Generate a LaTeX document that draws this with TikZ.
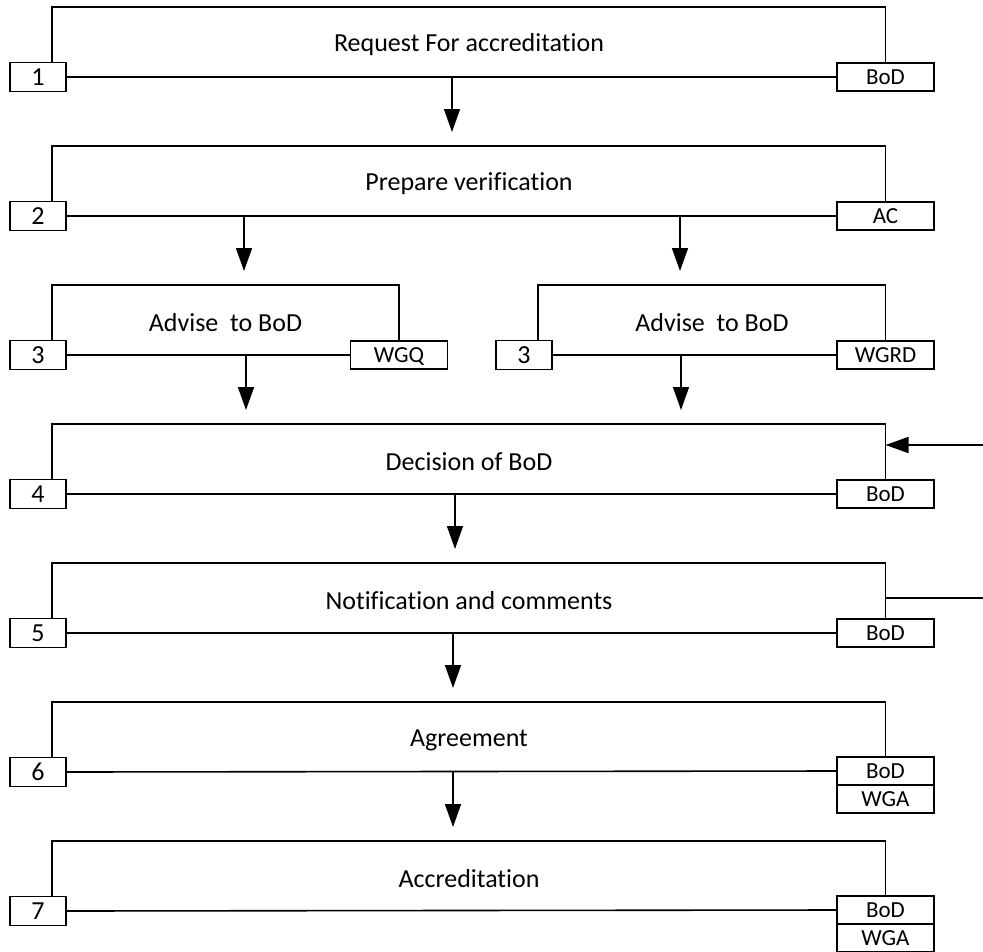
\documentclass[tikz,border=0pt]{standalone}
\usepackage{fontspec}
\setmainfont[Ligatures=CommonOff]{Carlito}
\usetikzlibrary{arrows.meta}
\tikzset{
  x=1pt, y=-1pt,
  every path/.style={line width=1.6pt},
  numbox/.style={draw, rectangle, inner sep=0pt, outer sep=0pt,
    minimum width=56pt, minimum height=29pt,
    text height=16.5pt, text depth=0pt, font=\fontsize{26pt}{26pt}\selectfont},
  rolebox/.style={draw, rectangle, inner sep=0pt, outer sep=0pt,
    minimum width=97pt, minimum height=28pt,
    text height=14.8pt, text depth=0pt, font=\fontsize{23pt}{23pt}\selectfont},
  titletext/.style={inner sep=0pt, font=\fontsize{26pt}{26pt}\selectfont},
  flow/.style={-{Triangle[length=23pt,width=16pt]}, shorten >=14pt},
  feed/.style={-{Triangle[length=23pt,width=16pt]}},
}
\begin{document}
\begin{tikzpicture}
\useasboundingbox (0,0) rectangle (983,951);

% ---------- step 1 ----------
\coordinate (tl1) at (52,7);   \coordinate (tr1) at (885.5,7);
\node[numbox]  (n1) at (38,77)    {1};
\node[rolebox] (r1) at (885.5,77) {BoD};
\node[titletext] (t1) at (469,45) {Request For accreditation};
\draw (n1.north -| tl1) -- (tl1) -- (tr1) -- (r1.north);
\draw (n1.east) -- (r1.west);

% ---------- step 2 ----------
\coordinate (tl2) at (52,146); \coordinate (tr2) at (885.5,146);
\node[numbox]  (n2) at (38,216)    {2};
\node[rolebox] (r2) at (885.5,216) {AC};
\node[titletext] (t2) at (469,184) {Prepare verification};
\draw (n2.north -| tl2) -- (tl2) -- (tr2) -- (r2.north);
\draw (n2.east) -- (r2.west);

% ---------- step 3 (two parallel advices) ----------
\coordinate (tl3a) at (52,285);  \coordinate (tr3a) at (399,285);
\node[numbox]  (n3a) at (38,355)  {3};
\node[rolebox] (r3a) at (399,355) {WGQ};
\node[titletext] (t3a) at (225.5,323) {Advise\ \ to BoD};
\draw (n3a.north -| tl3a) -- (tl3a) -- (tr3a) -- (r3a.north);
\draw (n3a.east) -- (r3a.west);

\coordinate (tl3b) at (538,285); \coordinate (tr3b) at (885.5,285);
\node[numbox]  (n3b) at (524,355)   {3};
\node[rolebox] (r3b) at (885.5,355) {WGRD};
\node[titletext] (t3b) at (712,323) {Advise\ \ to BoD};
\draw (n3b.north -| tl3b) -- (tl3b) -- (tr3b) -- (r3b.north);
\draw (n3b.east) -- (r3b.west);

% ---------- step 4 ----------
\coordinate (tl4) at (52,424); \coordinate (tr4) at (885.5,424);
\node[numbox]  (n4) at (38,494)    {4};
\node[rolebox] (r4) at (885.5,494) {BoD};
\node[titletext] (t4) at (469,462) {Decision of BoD};
\draw (n4.north -| tl4) -- (tl4) -- (tr4) -- (r4.north);
\draw (n4.east) -- (r4.west);

% ---------- step 5 ----------
\coordinate (tl5) at (52,563); \coordinate (tr5) at (885.5,563);
\node[numbox]  (n5) at (38,633)    {5};
\node[rolebox] (r5) at (885.5,633) {BoD};
\node[titletext] (t5) at (469,601) {Notification and comments};
\draw (n5.north -| tl5) -- (tl5) -- (tr5) -- (r5.north);
\draw (n5.east) -- (r5.west);

% ---------- step 6 ----------
\coordinate (tl6) at (52,702); \coordinate (tr6) at (885.5,702);
\node[numbox]  (n6) at (38,772)    {6};
\node[rolebox] (r6) at (885.5,771) {BoD};
\node[rolebox, anchor=north] (w6) at (r6.south) {WGA};
\node[titletext] (t6) at (469,740) {Agreement};
\draw (n6.north -| tl6) -- (tl6) -- (tr6) -- (r6.north);
\draw (n6.east) -- (r6.west);

% ---------- step 7 ----------
\coordinate (tl7) at (52,841); \coordinate (tr7) at (885.5,841);
\node[numbox]  (n7) at (38,911)    {7};
\node[rolebox] (r7) at (885.5,910) {BoD};
\node[rolebox, anchor=north] (w7) at (r7.south) {WGA};
\node[titletext] (t7) at (469,879) {Accreditation};
\draw (n7.north -| tl7) -- (tl7) -- (tr7) -- (r7.north);
\draw (n7.east) -- (r7.west);

% ---------- flow between steps ----------
\coordinate (a1)  at (452,77);
\coordinate (a2a) at (244,216);  \coordinate (a2b) at (680,216);
\coordinate (a3a) at (246,355);  \coordinate (a3b) at (681,355);
\coordinate (a4)  at (455,494);
\coordinate (a5)  at (453,633);
\coordinate (a6)  at (453,772);
\draw[flow] (a1)  -- (a1 |- tl2);
\draw[flow] (a2a) -- (a2a |- tl3a);
\draw[flow] (a2b) -- (a2b |- tl3b);
\draw[flow] (a3a) -- (a3a |- tl4);
\draw[flow] (a3b) -- (a3b |- tl4);
\draw[flow] (a4)  -- (a4 |- tl5);
\draw[flow] (a5)  -- (a5 |- tl6);
\draw[flow] (a6)  -- (a6 |- tl7);

% ---------- feedback loop at the right edge ----------
\coordinate (in4)  at (983,445);
\coordinate (out5) at (983,598);
\draw[feed] (in4) -- (in4 -| tr4);
\draw (out5 -| tr5) -- (out5);
\end{tikzpicture}
\end{document}
